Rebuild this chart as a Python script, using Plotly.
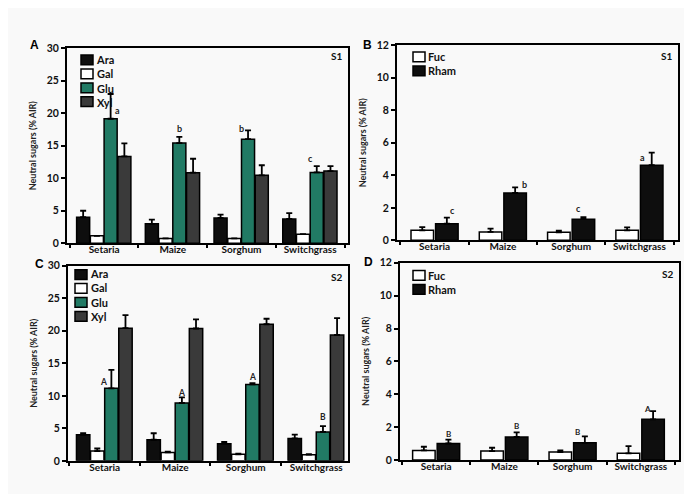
import plotly.graph_objects as go

categories = ["Setaria", "Maize", "Sorghum", "Switchgrass"]

# Panel A (S1): Ara, Gal, Glu, Xyl
a_ara = [4.0, 3.0, 3.9, 3.75]
a_ara_err = [1.0, 0.65, 0.5, 0.9]
a_gal = [1.15, 0.75, 0.75, 1.4]
a_gal_err = [0.0, 0.0, 0.0, 0.0]
a_glu = [19.15, 15.4, 16.0, 10.9]
a_glu_err = [3.8, 0.95, 1.35, 0.95]
a_xyl = [13.35, 10.85, 10.45, 11.1]
a_xyl_err = [2.0, 2.15, 1.55, 0.75]
a_sig = ["a", "b", "b", "c"]
a_sig_y = [20.4, 17.6, 17.6, 13.1]

# Panel B (S1): Fuc, Rham
b_fuc = [0.62, 0.52, 0.5, 0.62]
b_fuc_err = [0.2, 0.2, 0.1, 0.18]
b_rham = [1.02, 2.92, 1.3, 4.62]
b_rham_err = [0.38, 0.34, 0.12, 0.78]
b_sig = ["c", "b", "c", "a"]
b_sig_y = [1.86, 3.44, 1.94, 5.12]

# Panel C (S2): Ara, Gal, Glu, Xyl
c_ara = [4.0, 3.25, 2.65, 3.45]
c_ara_err = [0.25, 1.0, 0.25, 0.6]
c_gal = [1.5, 1.3, 1.0, 0.95]
c_gal_err = [0.4, 0.1, 0.1, 0.1]
c_glu = [11.15, 8.9, 11.75, 4.45]
c_glu_err = [2.85, 0.85, 0.2, 0.9]
c_xyl = [20.4, 20.35, 21.0, 19.35]
c_xyl_err = [2.0, 1.4, 0.85, 2.6]
c_sig = ["A", "A", "A", "B"]
c_sig_y = [12.15, 10.5, 12.9, 6.75]

# Panel D (S2): Fuc, Rham
d_fuc = [0.58, 0.54, 0.48, 0.4]
d_fuc_err = [0.22, 0.2, 0.1, 0.44]
d_rham = [1.0, 1.4, 1.04, 2.47]
d_rham_err = [0.23, 0.27, 0.39, 0.5]
d_sig = ["B", "B", "B", "A"]
d_sig_y = [1.6, 2.05, 1.67, 3.12]

W, H = 692, 494
FONT = "Lato"
BG = "#f9f9f9"
C_ARA = "#0e0e0e"
C_GAL = "#ffffff"
C_GLU = "#217a64"
C_XYL = "#3a3a3a"

# label nudges (pixels) so letters sit beside error caps as in the original
a_sig_dx = [7, 0, -7, -6]
b_sig_dx = [6, 9, -5, -9]
c_sig_dx = [-8, 0, 0, 0]
d_sig_dx = [0, 0, -7, -6]


def px(x):
    return x / W


def py(y):
    return 1 - y / H


fig = go.Figure()

x_idx = list(range(len(categories)))

four_offsets = [-0.4, -0.2, 0.0, 0.2]
four_width = 0.19
two_offsets = [-0.345, 0.015]
two_width = 0.33


def add_bar(vals, errs, color, offset, width, xa, ya, name):
    fig.add_trace(go.Bar(
        x=categories, y=vals, name=name, xaxis=xa, yaxis=ya,
        offset=offset, width=width, showlegend=False,
        marker=dict(color=color, line=dict(color="#000000", width=1.5)),
        error_y=dict(type="data", array=errs, arrayminus=[0] * len(errs),
                     symmetric=False, color="#000000", thickness=1.8, width=3),
    ))


for vals, errs, col, off, nm in [
    (a_ara, a_ara_err, C_ARA, four_offsets[0], "Ara"),
    (a_gal, a_gal_err, C_GAL, four_offsets[1], "Gal"),
    (a_glu, a_glu_err, C_GLU, four_offsets[2], "Glu"),
    (a_xyl, a_xyl_err, C_XYL, four_offsets[3], "Xyl"),
]:
    add_bar(vals, errs, col, off, four_width, "x", "y", nm)

for vals, errs, col, off, nm in [
    (b_fuc, b_fuc_err, C_GAL, two_offsets[0], "Fuc"),
    (b_rham, b_rham_err, C_ARA, two_offsets[1], "Rham"),
]:
    add_bar(vals, errs, col, off, two_width, "x2", "y2", nm)

for vals, errs, col, off, nm in [
    (c_ara, c_ara_err, C_ARA, four_offsets[0], "Ara"),
    (c_gal, c_gal_err, C_GAL, four_offsets[1], "Gal"),
    (c_glu, c_glu_err, C_GLU, four_offsets[2], "Glu"),
    (c_xyl, c_xyl_err, C_XYL, four_offsets[3], "Xyl"),
]:
    add_bar(vals, errs, col, off, four_width, "x3", "y3", nm)

for vals, errs, col, off, nm in [
    (d_fuc, d_fuc_err, C_GAL, two_offsets[0], "Fuc"),
    (d_rham, d_rham_err, C_ARA, two_offsets[1], "Rham"),
]:
    add_bar(vals, errs, col, off, two_width, "x4", "y4", nm)


def xax(domain, rng, anchor):
    return dict(domain=domain, range=rng, anchor=anchor, type="category",
                showline=True, linecolor="#000000", linewidth=2, mirror=True,
                ticks="outside", tickson="boundaries", ticklen=3, tickwidth=1.5,
                tickcolor="#000000", showgrid=False, zeroline=False,
                ticklabelstandoff=-4,
                tickfont=dict(family=FONT, size=10, color="#111111", weight="bold"))


def yax(domain, rng, dtick, anchor):
    return dict(domain=domain, range=rng, dtick=dtick, anchor=anchor,
                showline=True, linecolor="#000000", linewidth=2, mirror=True,
                ticks="outside", ticklen=4, tickwidth=1.5, tickcolor="#000000",
                showgrid=False, zeroline=False,
                tickfont=dict(family=FONT, size=10.5, color="#111111", weight="bold"),
                title=dict(text="Neutral sugars (% AIR)", standoff=9,
                           font=dict(family=FONT, size=9, color="#222222",
                                     weight="bold")))


fig.update_layout(
    width=W, height=H, margin=dict(l=0, r=0, t=0, b=0),
    paper_bgcolor=BG, plot_bgcolor=BG, barmode="overlay",
    xaxis=xax([px(59), px(340)], [-0.54, 3.55], "y"),
    yaxis=yax([py(235), py(35)], [0, 30], 5, "x"),
    xaxis2=xax([px(389), px(670)], [-0.55, 3.565], "y2"),
    yaxis2=yax([py(232), py(32)], [0, 12], 2, "x2"),
    xaxis3=xax([px(60), px(340)], [-0.52, 3.45], "y3"),
    yaxis3=yax([py(458), py(258)], [0, 30], 5, "x3"),
    xaxis4=xax([px(392), px(671)], [-0.53, 3.56], "y4"),
    yaxis4=yax([py(457), py(255)], [0, 12], 2, "x4"),
)

annotations = []
shapes = []

for sig, sy, sdx, xa, ya, off, wd, fs in [
    (a_sig, a_sig_y, a_sig_dx, "x", "y", four_offsets[2], four_width, 9),
    (b_sig, b_sig_y, b_sig_dx, "x2", "y2", two_offsets[1], two_width, 9),
    (c_sig, c_sig_y, c_sig_dx, "x3", "y3", four_offsets[2], four_width, 8.5),
    (d_sig, d_sig_y, d_sig_dx, "x4", "y4", two_offsets[1], two_width, 8),
]:
    for i, (s, yv, dx) in enumerate(zip(sig, sy, sdx)):
        annotations.append(dict(
            x=x_idx[i] + off + wd / 2, y=yv, xref=xa, yref=ya, text=s,
            showarrow=False, yanchor="middle", xshift=dx,
            font=dict(family=FONT, size=fs, color="#222222", weight="bold")))

for t, x, y in [("A", 26, 32), ("B", 359, 32), ("C", 31, 256), ("D", 360, 254)]:
    annotations.append(dict(x=px(x), y=py(y), xref="paper", yref="paper", text=t,
                            showarrow=False, xanchor="center", yanchor="middle",
                            font=dict(family="Liberation Sans", size=12, color="#000000",
                                      weight="bold")))

for t, x, y in [("S1", 336, 43), ("S1", 666, 43), ("S2", 336, 270), ("S2", 667, 266)]:
    annotations.append(dict(x=px(x), y=py(y), xref="paper", yref="paper", text=t,
                            showarrow=False, xanchor="right", yanchor="middle",
                            font=dict(family=FONT, size=10, color="#111111", weight="bold")))

LEG_FS = 11
LEG_STEP = LEG_FS * 1.3


def legend(items, x0, y_first):
    n = len(items)
    for k, (name, col) in enumerate(items):
        yc = y_first + k * LEG_STEP
        shapes.append(dict(type="rect", xref="paper", yref="paper",
                           x0=px(x0), x1=px(x0 + 12), y0=py(yc + 5), y1=py(yc - 5),
                           fillcolor=col, line=dict(color="#000000", width=1.5)))
    y_mid = y_first + (n - 1) * LEG_STEP / 2
    annotations.append(dict(x=px(x0 + 13), y=py(y_mid), xref="paper", yref="paper",
                            text="<br>".join(nm for nm, _ in items),
                            showarrow=False, xanchor="left", yanchor="middle",
                            align="left",
                            font=dict(family=FONT, size=LEG_FS, color="#111111",
                                      weight="bold")))


four_items = [("Ara", C_ARA), ("Gal", C_GAL), ("Glu", C_GLU), ("Xyl", C_XYL)]
two_items = [("Fuc", C_GAL), ("Rham", C_ARA)]
legend(four_items, 73, 47)
legend(two_items, 405, 44)
legend(four_items, 67, 267)
legend(two_items, 405, 268)

fig.update_layout(annotations=annotations, shapes=shapes)

fig.write_html("out.html")
